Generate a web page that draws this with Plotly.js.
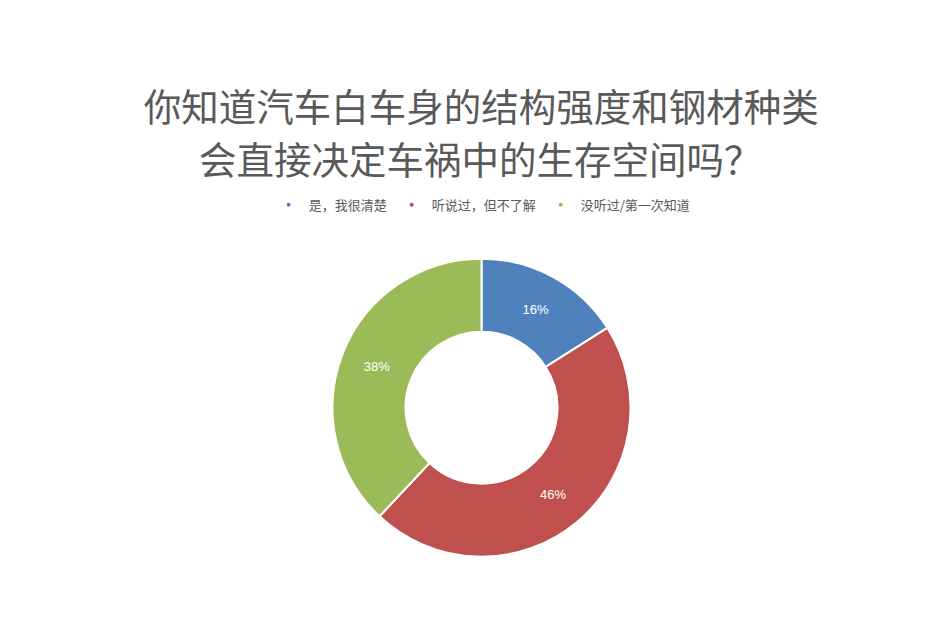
<!DOCTYPE html>
<html>
<head>
<meta charset="utf-8">
<script src="https://cdn.plot.ly/plotly-3.0.1.min.js"></script>
<style>
html,body{margin:0;padding:0;background:#fff;}
#chart{width:938px;height:644px;}
</style>
</head>
<body>
<div id="chart"></div>
<script>
// answers and share of respondents (%)
let labels = ["是，我很清楚", "听说过，但不了解", "没听过/第一次知道"];
let values = [16, 46, 38];
let colors = ["#4F81BD", "#C0504D", "#9BBB59"];
let titleLines = ["你知道汽车白车身的结构强度和钢材种类", "会直接决定车祸中的生存空间吗？"];

let font = '"Noto Sans CJK SC", "Microsoft YaHei", sans-serif';

let pie = {
  type: 'pie',
  labels: labels,
  values: values,
  hole: 0.51,
  sort: false,
  direction: 'clockwise',
  rotation: 0,
  textinfo: 'percent',
  textposition: 'inside',
  insidetextorientation: 'horizontal',
  textfont: {color: '#fff', size: 13, family: 'Arial, "Liberation Sans", sans-serif'},
  marker: {colors: colors, line: {color: '#fff', width: 2}},
  domain: {x: [0.3545, 0.6722], y: [0.135, 0.599]},
  showlegend: false,
  hoverinfo: 'label+percent'
};

// legend entries drawn as small dots, like the original
let legendDots = labels.map((l, i) => ({
  type: 'scatter', mode: 'markers', x: [null], y: [null], name: l,
  marker: {color: colors[i], size: 4, symbol: 'circle'},
  showlegend: true, hoverinfo: 'skip'
}));

let layout = {
  width: 938, height: 644,
  margin: {l: 0, r: 0, t: 0, b: 0},
  paper_bgcolor: '#fff', plot_bgcolor: '#fff',
  font: {family: font, color: '#595959'},
  title: {
    text: titleLines[0],
    font: {size: 37.5, color: '#595959', family: font},
    x: 0.513, xanchor: 'center',
    y: 1 - 108 / 644, yanchor: 'middle'
  },
  annotations: [{
    text: titleLines[1], xref: 'paper', yref: 'paper',
    x: 0.5125, xanchor: 'center', y: 1 - 157 / 644, yanchor: 'middle',
    showarrow: false, font: {size: 37.5, color: '#595959', family: font}
  }],
  xaxis: {visible: false},
  yaxis: {visible: false},
  showlegend: true,
  legend: {
    orientation: 'h', x: 0.514, xanchor: 'center', y: 0.682, yanchor: 'middle',
    font: {size: 13, color: '#595959', family: font},
    itemwidth: 30, traceorder: 'normal', bgcolor: 'rgba(0,0,0,0)'
  }
};

Plotly.newPlot('chart', [pie].concat(legendDots), layout, {displayModeBar: false});
</script>
</body>
</html>
